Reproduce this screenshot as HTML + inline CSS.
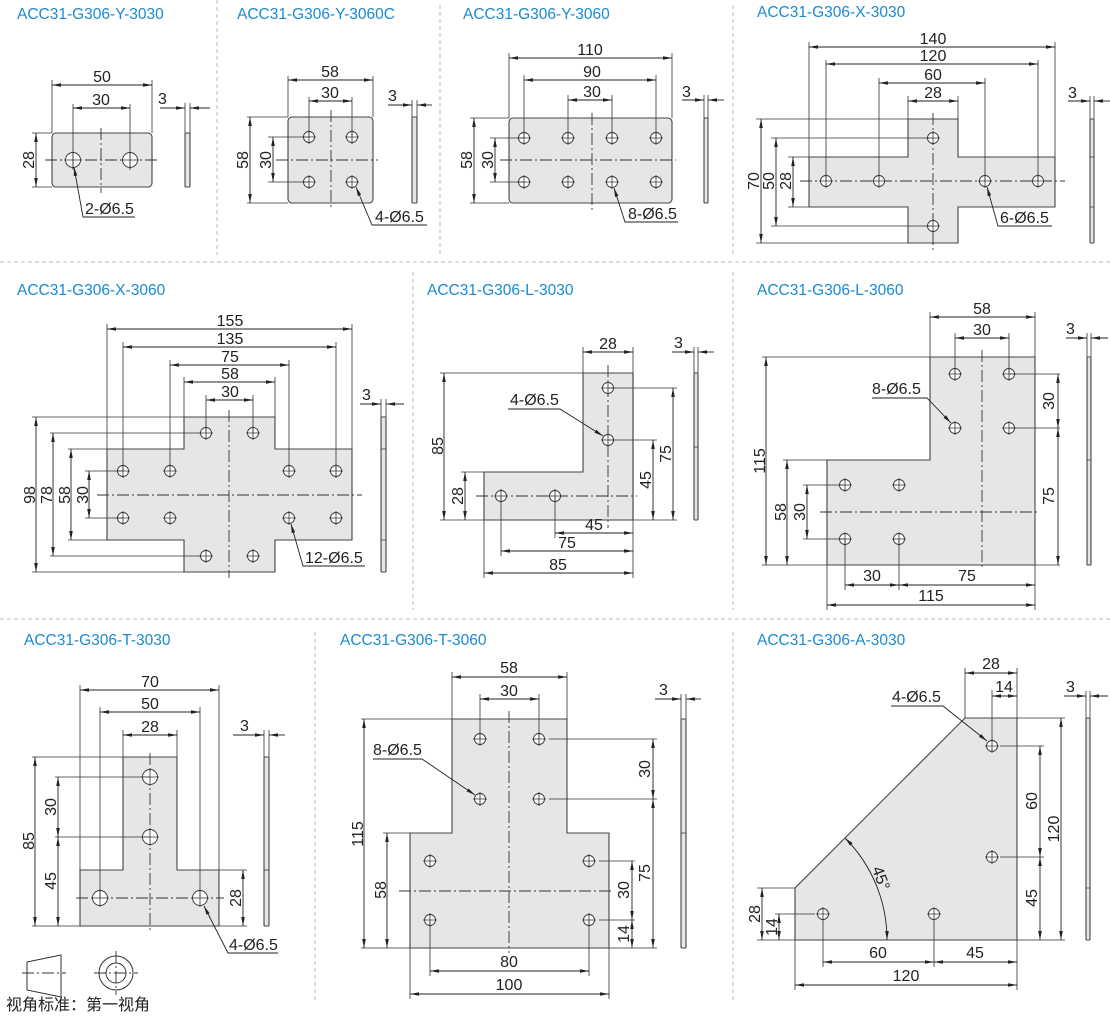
<!DOCTYPE html>
<html><head><meta charset="utf-8"><style>
html,body{margin:0;padding:0;background:#fff;}
svg{display:block}
.p{fill:#e6e6e8;stroke:#444;stroke-width:1.1}
.e{stroke:#333;stroke-width:.8;fill:none}
.dm{stroke:#222;stroke-width:.9;fill:none;marker-start:url(#a);marker-end:url(#a)}
.c{stroke:#333;stroke-width:.9;fill:none;stroke-dasharray:12 3 2 3}
.s{stroke:#bbb;stroke-width:1;stroke-dasharray:4 3}
.l{stroke:#222;stroke-width:.9;fill:none;marker-end:url(#a)}
text{font-family:"Liberation Sans","Noto Sans CJK SC",sans-serif;font-size:16px;fill:#222}
.t{text-anchor:middle}
.ti{fill:#1a8ad0;font-size:15.5px}
.sd{fill:#e6e6e8;stroke:#444;stroke-width:1.1}
</style></head><body>
<svg width="1110" height="1016" viewBox="0 0 1110 1016" xmlns="http://www.w3.org/2000/svg">
<defs>
<marker id="a" viewBox="0 0 10 4" refX="10" refY="2" markerWidth="9" markerHeight="3.6" orient="auto-start-reverse" markerUnits="userSpaceOnUse"><path d="M0,0L10,2L0,4z" fill="#222"/></marker>
<g id="h"><circle r="5.5" fill="#fff" stroke="#333" stroke-width=".9"/><path d="M-7,0H7M0,-7V7" stroke="#333" stroke-width=".8"/></g>
<g id="H"><circle r="7.5" fill="#fff" stroke="#333" stroke-width=".9"/><path d="M-9,0H9M0,-9V9" stroke="#333" stroke-width=".8"/></g>
</defs>

<line class="s" x1="0" y1="262" x2="1110" y2="262"/>
<line class="s" x1="0" y1="619" x2="1110" y2="619"/>
<line class="s" x1="217" y1="0" x2="217" y2="255"/>
<line class="s" x1="440" y1="5" x2="440" y2="255"/>
<line class="s" x1="733" y1="5" x2="733" y2="255"/>
<line class="s" x1="413" y1="272" x2="413" y2="610"/>
<line class="s" x1="733" y1="272" x2="733" y2="610"/>
<line class="s" x1="315" y1="632" x2="315" y2="1000"/>
<line class="s" x1="733" y1="632" x2="733" y2="1000"/>

<!-- Panel 1 -->
<text class="ti" x="17" y="19">ACC31-G306-Y-3030</text>
<rect class="p" x="52" y="133" width="100" height="54" rx="4"/>
<line class="c" x1="45" y1="160" x2="158" y2="160"/><line class="c" x1="101" y1="128" x2="101" y2="193"/>
<use href="#H" x="73" y="160"/><use href="#H" x="130" y="160"/>
<path class="e" d="M52,80V133M152,80V133M73,104V170M130,104V170M32,133H52M32,187H52"/>
<line class="dm" x1="52" y1="85" x2="152" y2="85"/><text class="t" x="102" y="82">50</text>
<line class="dm" x1="73" y1="108" x2="130" y2="108"/><text class="t" x="101" y="105">30</text>
<line class="dm" x1="36" y1="133" x2="36" y2="187"/><text class="t" transform="translate(34,160) rotate(-90)">28</text>
<path class="l" d="M135,217H83L74,167"/><text x="85" y="214">2-Ø6.5</text>
<rect class="sd" x="185" y="133" width="5" height="54" rx="1"/>
<path class="e" d="M185,103V133M190,103V133"/>
<line class="l" x1="160" y1="108" x2="185" y2="108"/><line class="l" x1="210" y1="108" x2="190" y2="108"/><text x="158" y="104">3</text>

<!-- Panel 2 -->
<text class="ti" x="237" y="19">ACC31-G306-Y-3060C</text>
<rect class="p" x="288" y="117" width="85" height="86" rx="4"/>
<line class="c" x1="276" y1="160" x2="378" y2="160"/><line class="c" x1="331" y1="110" x2="331" y2="207"/>
<use href="#h" x="309" y="137"/><use href="#h" x="352" y="137"/><use href="#h" x="309" y="182"/><use href="#h" x="352" y="182"/>
<path class="e" d="M288,76V117M373,76V117M309,97V137M352,97V137M247,117H288M247,203H288M268,137H309M268,182H309"/>
<line class="dm" x1="288" y1="80" x2="373" y2="80"/><text class="t" x="330" y="77">58</text>
<line class="dm" x1="309" y1="101" x2="352" y2="101"/><text class="t" x="330" y="98">30</text>
<line class="dm" x1="250" y1="117" x2="250" y2="203"/><text class="t" transform="translate(248,160) rotate(-90)">58</text>
<line class="dm" x1="273" y1="137" x2="273" y2="182"/><text class="t" transform="translate(271,160) rotate(-90)">30</text>
<path class="l" d="M427,225H372L356,187"/><text x="375" y="222">4-Ø6.5</text>
<rect class="sd" x="412" y="117" width="5" height="86" rx="1"/>
<path class="e" d="M412,100V117M417,100V117"/>
<line class="l" x1="388" y1="105" x2="412" y2="105"/><line class="l" x1="432" y1="105" x2="417" y2="105"/><text x="388" y="101">3</text>

<!-- Panel 3 -->
<text class="ti" x="463" y="19">ACC31-G306-Y-3060</text>
<rect class="p" x="509" y="118" width="163" height="85" rx="4"/>
<line class="c" x1="500" y1="160" x2="676" y2="160"/><line class="c" x1="592" y1="113" x2="592" y2="210"/>
<use href="#h" x="524" y="138"/><use href="#h" x="568" y="138"/><use href="#h" x="612" y="138"/><use href="#h" x="656" y="138"/>
<use href="#h" x="524" y="182"/><use href="#h" x="568" y="182"/><use href="#h" x="612" y="182"/><use href="#h" x="656" y="182"/>
<path class="e" d="M509,53V118M672,53V118M524,75V138M656,75V138M568,95V138M612,95V138M470,118H509M470,203H509M490,138H524M490,182H524"/>
<line class="dm" x1="509" y1="58" x2="672" y2="58"/><text class="t" x="590" y="55">110</text>
<line class="dm" x1="524" y1="80" x2="656" y2="80"/><text class="t" x="592" y="77">90</text>
<line class="dm" x1="568" y1="100" x2="612" y2="100"/><text class="t" x="592" y="97">30</text>
<line class="dm" x1="474" y1="118" x2="474" y2="203"/><text class="t" transform="translate(472,160) rotate(-90)">58</text>
<line class="dm" x1="495" y1="138" x2="495" y2="182"/><text class="t" transform="translate(493,160) rotate(-90)">30</text>
<path class="l" d="M678,222H625L614,188"/><text x="628" y="219">8-Ø6.5</text>
<rect class="sd" x="704" y="118" width="4" height="85" rx="1"/>
<path class="e" d="M704,95V118M708,95V118"/>
<line class="l" x1="682" y1="100" x2="704" y2="100"/><line class="l" x1="724" y1="100" x2="708" y2="100"/><text x="682" y="97">3</text>

<!-- Panel 4 -->
<text class="ti" x="757" y="17">ACC31-G306-X-3030</text>
<path class="p" d="M908,119H958V157H1055V207H958V243H908V207H809V157H908Z"/>
<line class="c" x1="800" y1="181" x2="1065" y2="181"/><line class="c" x1="933" y1="113" x2="933" y2="250"/>
<use href="#h" x="826" y="181"/><use href="#h" x="879" y="181"/><use href="#h" x="985" y="181"/><use href="#h" x="1038" y="181"/><use href="#h" x="933" y="138"/><use href="#h" x="933" y="226"/>
<path class="e" d="M809,42V157M1055,42V157M826,60V181M1038,60V181M879,78V181M985,78V181M908,96V119M958,96V119M756,119H908M756,243H908M771,138H933M771,226H933M788,157H809M788,207H809"/>
<line class="dm" x1="809" y1="47" x2="1055" y2="47"/><text class="t" x="933" y="44">140</text>
<line class="dm" x1="826" y1="64" x2="1038" y2="64"/><text class="t" x="933" y="61">120</text>
<line class="dm" x1="879" y1="83" x2="985" y2="83"/><text class="t" x="933" y="80">60</text>
<line class="dm" x1="908" y1="101" x2="958" y2="101"/><text class="t" x="933" y="98">28</text>
<line class="dm" x1="761" y1="119" x2="761" y2="243"/><text class="t" transform="translate(759,181) rotate(-90)">70</text>
<line class="dm" x1="776" y1="138" x2="776" y2="226"/><text class="t" transform="translate(774,181) rotate(-90)">50</text>
<line class="dm" x1="793" y1="157" x2="793" y2="207"/><text class="t" transform="translate(791,181) rotate(-90)">28</text>
<path class="l" d="M1052,226H998L987,187"/><text x="1000" y="223">6-Ø6.5</text>
<rect class="sd" x="1090" y="119" width="4" height="124" rx="1"/>
<path class="e" d="M1090,157H1094M1090,207H1094M1090,96V119M1094,96V119"/>
<line class="l" x1="1068" y1="101" x2="1090" y2="101"/><line class="l" x1="1110" y1="101" x2="1094" y2="101"/><text x="1068" y="98">3</text>

<!-- X-3060 -->
<text class="ti" x="17" y="295">ACC31-G306-X-3060</text>
<path class="p" d="M184,417H275V449H352V540H275V572H184V540H107V449H184Z"/>
<line class="c" x1="97" y1="495" x2="362" y2="495"/><line class="c" x1="229" y1="410" x2="229" y2="578"/>
<use href="#h" x="206" y="433"/><use href="#h" x="253" y="433"/>
<use href="#h" x="123" y="471"/><use href="#h" x="170" y="471"/><use href="#h" x="289" y="471"/><use href="#h" x="336" y="471"/>
<use href="#h" x="123" y="518"/><use href="#h" x="170" y="518"/><use href="#h" x="289" y="518"/><use href="#h" x="336" y="518"/>
<use href="#h" x="206" y="556"/><use href="#h" x="253" y="556"/>
<path class="e" d="M107,324V449M352,324V449M123,342V471M336,342V471M170,360V471M289,360V471M184,377V417M275,377V417M206,395V433M253,395V433M32,417H184M32,572H184M50,433H200M50,556H200M68,449H107M68,540H107M85,471H123M85,518H123"/>
<line class="dm" x1="107" y1="329" x2="352" y2="329"/><text class="t" x="230" y="326">155</text>
<line class="dm" x1="123" y1="347" x2="336" y2="347"/><text class="t" x="230" y="344">135</text>
<line class="dm" x1="170" y1="365" x2="289" y2="365"/><text class="t" x="230" y="362">75</text>
<line class="dm" x1="184" y1="382" x2="275" y2="382"/><text class="t" x="230" y="379">58</text>
<line class="dm" x1="206" y1="400" x2="253" y2="400"/><text class="t" x="230" y="397">30</text>
<line class="dm" x1="36" y1="417" x2="36" y2="572"/><text class="t" transform="translate(35,495) rotate(-90)">98</text>
<line class="dm" x1="53" y1="433" x2="53" y2="556"/><text class="t" transform="translate(52,495) rotate(-90)">78</text>
<line class="dm" x1="71" y1="449" x2="71" y2="540"/><text class="t" transform="translate(70,495) rotate(-90)">58</text>
<line class="dm" x1="89" y1="471" x2="89" y2="518"/><text class="t" transform="translate(88,495) rotate(-90)">30</text>
<path class="l" d="M365,566H303L291,524"/><text x="305" y="563">12-Ø6.5</text>
<rect class="sd" x="381" y="417" width="5" height="155" rx="1"/>
<path class="e" d="M381,449H386M381,540H386M381,399V417M386,399V417"/>
<line class="l" x1="360" y1="404" x2="381" y2="404"/><line class="l" x1="404" y1="404" x2="386" y2="404"/><text x="362" y="400">3</text>

<!-- L-3030 -->
<text class="ti" x="427" y="295">ACC31-G306-L-3030</text>
<path class="p" d="M583,373H633V520H484V472H583Z"/>
<line class="c" x1="608" y1="365" x2="608" y2="528"/><line class="c" x1="476" y1="496" x2="637" y2="496"/>
<use href="#h" x="608" y="388"/><use href="#h" x="608" y="440"/><use href="#h" x="501" y="496"/><use href="#h" x="555" y="496"/>
<path class="e" d="M583,347V373M633,347V520M440,373H583M440,520H484M461,472H484M608,388H677M608,440H657M633,520H677M555,496V538M501,496V556M484,520V578M633,520V578"/>
<line class="dm" x1="583" y1="352" x2="633" y2="352"/><text class="t" x="608" y="349">28</text>
<line class="dm" x1="444" y1="373" x2="444" y2="520"/><text class="t" transform="translate(443,446) rotate(-90)">85</text>
<line class="dm" x1="465" y1="472" x2="465" y2="520"/><text class="t" transform="translate(463,496) rotate(-90)">28</text>
<line class="dm" x1="673" y1="388" x2="673" y2="520"/><text class="t" transform="translate(671,454) rotate(-90)">75</text>
<line class="dm" x1="653" y1="440" x2="653" y2="520"/><text class="t" transform="translate(651,480) rotate(-90)">45</text>
<line class="dm" x1="555" y1="533" x2="633" y2="533"/><text class="t" x="594" y="530">45</text>
<line class="dm" x1="501" y1="551" x2="633" y2="551"/><text class="t" x="567" y="548">75</text>
<line class="dm" x1="484" y1="573" x2="633" y2="573"/><text class="t" x="558" y="570">85</text>
<path class="l" d="M508,409H560L603,436"/><text x="510" y="405">4-Ø6.5</text>
<rect class="sd" x="694" y="373" width="4" height="147" rx="1"/>
<path class="e" d="M694,447H698M694,347V373M698,347V373"/>
<line class="l" x1="672" y1="352" x2="694" y2="352"/><line class="l" x1="714" y1="352" x2="698" y2="352"/><text x="674" y="348">3</text>

<!-- L-3060 -->
<text class="ti" x="757" y="295">ACC31-G306-L-3060</text>
<path class="p" d="M930,357H1035V565H827V460H930Z"/>
<line class="c" x1="982" y1="350" x2="982" y2="570"/><line class="c" x1="820" y1="512" x2="1039" y2="512"/>
<use href="#h" x="955" y="374"/><use href="#h" x="1009" y="374"/><use href="#h" x="955" y="428"/><use href="#h" x="1009" y="428"/>
<use href="#h" x="845" y="485"/><use href="#h" x="899" y="485"/><use href="#h" x="845" y="539"/><use href="#h" x="899" y="539"/>
<path class="e" d="M930,312V357M1035,312V357M955,333V374M1009,333V374M1009,374H1060M1009,428H1060M1035,565H1060M762,357H930M762,565H827M783,460H827M803,485H845M803,539H845M845,539V590M899,539V590M827,565V610M1035,565V610"/>
<line class="dm" x1="930" y1="317" x2="1035" y2="317"/><text class="t" x="982" y="314">58</text>
<line class="dm" x1="955" y1="338" x2="1009" y2="338"/><text class="t" x="982" y="335">30</text>
<line class="dm" x1="1058" y1="374" x2="1058" y2="428"/><text class="t" transform="translate(1054,401) rotate(-90)">30</text>
<line class="dm" x1="1058" y1="428" x2="1058" y2="565"/><text class="t" transform="translate(1054,496) rotate(-90)">75</text>
<line class="dm" x1="766" y1="357" x2="766" y2="565"/><text class="t" transform="translate(765,461) rotate(-90)">115</text>
<line class="dm" x1="787" y1="460" x2="787" y2="565"/><text class="t" transform="translate(786,512) rotate(-90)">58</text>
<line class="dm" x1="807" y1="485" x2="807" y2="539"/><text class="t" transform="translate(805,512) rotate(-90)">30</text>
<line class="dm" x1="845" y1="585" x2="899" y2="585"/><text class="t" x="872" y="581">30</text>
<line class="dm" x1="899" y1="585" x2="1035" y2="585"/><text class="t" x="967" y="581">75</text>
<line class="dm" x1="827" y1="605" x2="1035" y2="605"/><text class="t" x="931" y="601">115</text>
<path class="l" d="M872,398H927L951,423"/><text x="872" y="394">8-Ø6.5</text>
<rect class="sd" x="1087" y="357" width="4" height="208" rx="1"/>
<path class="e" d="M1087,460H1091M1087,333V357M1091,333V357"/>
<line class="l" x1="1066" y1="338" x2="1087" y2="338"/><line class="l" x1="1108" y1="338" x2="1091" y2="338"/><text x="1066" y="334">3</text>

<!-- T-3030 -->
<text class="ti" x="24" y="645">ACC31-G306-T-3030</text>
<path class="p" d="M123,757H177V870H219V926H80V870H123Z"/>
<line class="c" x1="150" y1="753" x2="150" y2="932"/><line class="c" x1="76" y1="898" x2="224" y2="898"/>
<use href="#H" x="150" y="777"/><use href="#H" x="150" y="837"/><use href="#H" x="100" y="898"/><use href="#H" x="200" y="898"/>
<path class="e" d="M80,685V870M219,685V870M100,707V898M200,707V898M123,730V757M177,730V757M32,757H123M32,926H80M55,777H150M55,837H150M219,870H247M219,926H247"/>
<line class="dm" x1="80" y1="690" x2="219" y2="690"/><text class="t" x="150" y="687">70</text>
<line class="dm" x1="100" y1="712" x2="200" y2="712"/><text class="t" x="150" y="709">50</text>
<line class="dm" x1="123" y1="735" x2="177" y2="735"/><text class="t" x="150" y="732">28</text>
<line class="dm" x1="35" y1="757" x2="35" y2="926"/><text class="t" transform="translate(34,841) rotate(-90)">85</text>
<line class="dm" x1="58" y1="777" x2="58" y2="837"/><text class="t" transform="translate(56,807) rotate(-90)">30</text>
<line class="dm" x1="58" y1="837" x2="58" y2="926"/><text class="t" transform="translate(56,881) rotate(-90)">45</text>
<line class="dm" x1="243" y1="870" x2="243" y2="926"/><text class="t" transform="translate(241,898) rotate(-90)">28</text>
<path class="l" d="M278,953H228L204,906"/><text x="229" y="950">4-Ø6.5</text>
<rect class="sd" x="264" y="757" width="5" height="169" rx="1"/>
<path class="e" d="M264,870H269M264,730V757M269,730V757"/>
<line class="l" x1="233" y1="735" x2="264" y2="735"/><line class="l" x1="285" y1="735" x2="269" y2="735"/><text x="240" y="731">3</text>
<path d="M27,962L61,955V997L27,990Z" fill="none" stroke="#333" stroke-width="1"/>
<line class="c" x1="22" y1="973" x2="66" y2="973"/>
<circle cx="116" cy="973" r="17" fill="none" stroke="#333"/><circle cx="116" cy="973" r="10" fill="none" stroke="#333"/>
<path class="c" d="M94,973H138M116,951V995"/>
<text x="6" y="1010" style="font-size:16px">视角标准：第一视角</text>

<!-- T-3060 -->
<text class="ti" x="340" y="645">ACC31-G306-T-3060</text>
<path class="p" d="M452,719H567V833H609V948H410V833H452Z"/>
<line class="c" x1="509" y1="711" x2="509" y2="953"/><line class="c" x1="399" y1="891" x2="612" y2="891"/>
<use href="#h" x="480" y="739"/><use href="#h" x="539" y="739"/><use href="#h" x="480" y="799"/><use href="#h" x="539" y="799"/>
<use href="#h" x="430" y="861"/><use href="#h" x="589" y="861"/><use href="#h" x="430" y="920"/><use href="#h" x="589" y="920"/>
<path class="e" d="M452,672V719M567,672V719M480,694V739M539,694V739M361,719H452M361,948H410M383,833H410M549,739H657M549,799H657M609,948H657M599,861H635M599,920H635M430,920V976M589,920V976M410,948V999M609,948V999"/>
<line class="dm" x1="452" y1="677" x2="567" y2="677"/><text class="t" x="509" y="673">58</text>
<line class="dm" x1="480" y1="699" x2="539" y2="699"/><text class="t" x="509" y="696">30</text>
<line class="dm" x1="364" y1="719" x2="364" y2="948"/><text class="t" transform="translate(363,834) rotate(-90)">115</text>
<line class="dm" x1="387" y1="833" x2="387" y2="948"/><text class="t" transform="translate(386,890) rotate(-90)">58</text>
<line class="dm" x1="653" y1="739" x2="653" y2="799"/><text class="t" transform="translate(650,769) rotate(-90)">30</text>
<line class="dm" x1="653" y1="799" x2="653" y2="948"/><text class="t" transform="translate(650,873) rotate(-90)">75</text>
<line class="dm" x1="632" y1="861" x2="632" y2="920"/><text class="t" transform="translate(629,890) rotate(-90)">30</text>
<line class="dm" x1="632" y1="920" x2="632" y2="948"/><text class="t" transform="translate(629,934) rotate(-90)">14</text>
<line class="dm" x1="430" y1="971" x2="589" y2="971"/><text class="t" x="509" y="967">80</text>
<line class="dm" x1="410" y1="994" x2="609" y2="994"/><text class="t" x="509" y="990">100</text>
<path class="l" d="M373,759H422L475,795"/><text x="373" y="755">8-Ø6.5</text>
<rect class="sd" x="681" y="719" width="5" height="229" rx="1"/>
<path class="e" d="M681,833H686M681,694V719M686,694V719"/>
<line class="l" x1="655" y1="699" x2="681" y2="699"/><line class="l" x1="701" y1="699" x2="686" y2="699"/><text x="659" y="695">3</text>

<!-- A-3030 -->
<text class="ti" x="757" y="645">ACC31-G306-A-3030</text>
<path class="p" d="M965,718H1017V940H795V888Z"/>
<use href="#h" x="992" y="746"/><use href="#h" x="992" y="857"/><use href="#h" x="823" y="914"/><use href="#h" x="934" y="914"/>
<path class="e" d="M965,668V718M1017,668V718M992,690V740M1000,746H1044M1000,857H1044M1017,718H1065M1017,940H1065M757,888H795M775,914H815M757,940H795M823,920V967M934,920V967M795,940V990M1017,940V990"/>
<line class="dm" x1="965" y1="673" x2="1017" y2="673"/><text class="t" x="991" y="669">28</text>
<line class="dm" x1="992" y1="696" x2="1017" y2="696"/><text class="t" x="1004" y="692">14</text>
<line class="dm" x1="1040" y1="746" x2="1040" y2="857"/><text class="t" transform="translate(1037,801) rotate(-90)">60</text>
<line class="dm" x1="1040" y1="857" x2="1040" y2="940"/><text class="t" transform="translate(1037,898) rotate(-90)">45</text>
<line class="dm" x1="1061" y1="718" x2="1061" y2="940"/><text class="t" transform="translate(1059,829) rotate(-90)">120</text>
<line class="dm" x1="762" y1="888" x2="762" y2="940"/><text class="t" transform="translate(760,914) rotate(-90)">28</text>
<line class="dm" x1="779" y1="914" x2="779" y2="940"/><text class="t" transform="translate(777,927) rotate(-90)">14</text>
<line class="dm" x1="823" y1="962" x2="934" y2="962"/><text class="t" x="878" y="958">60</text>
<line class="dm" x1="934" y1="962" x2="1017" y2="962"/><text class="t" x="975" y="958">45</text>
<line class="dm" x1="795" y1="985" x2="1017" y2="985"/><text class="t" x="906" y="981">120</text>
<path class="dm" d="M845,838A144,144 0 0 1 887,940"/>
<text class="t" transform="translate(876,880) rotate(70)">45°</text>
<path class="l" d="M891,706H943L987,741"/><text x="892" y="702">4-Ø6.5</text>
<rect class="sd" x="1086" y="718" width="4" height="222" rx="1"/>
<path class="e" d="M1086,888H1090M1086,691V718M1090,691V718"/>
<line class="l" x1="1064" y1="696" x2="1086" y2="696"/><line class="l" x1="1108" y1="696" x2="1090" y2="696"/><text x="1066" y="692">3</text>
</svg>
</body></html>
